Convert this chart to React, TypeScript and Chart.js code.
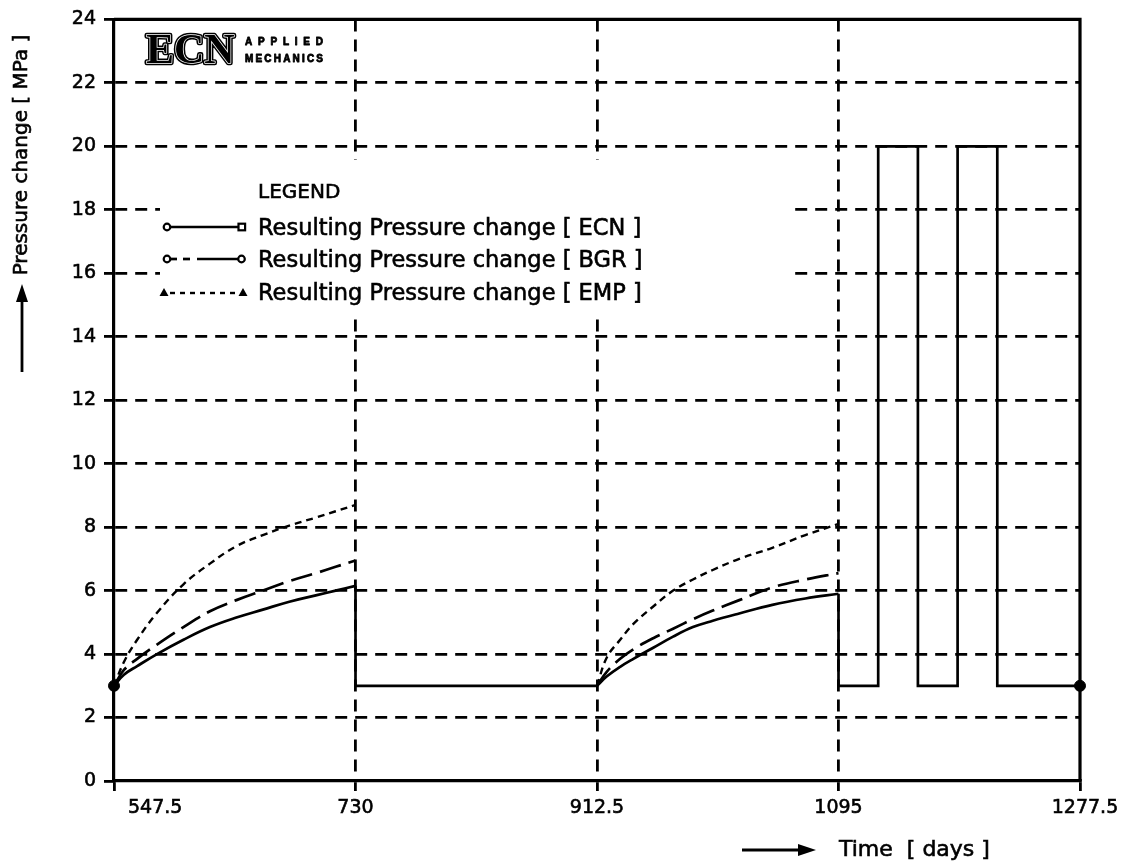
import React, { useEffect, useRef } from "react";
import { Chart, registerables } from "chart.js";

Chart.register(...registerables);

// Loading cycles: time in days, pressure change in MPa
const cycle1Days = [547.5, 555, 565, 580, 600, 620, 640, 660, 680, 700, 715, 730];
const cycle2Days = [912.5, 920, 930, 940, 955, 970, 985, 1000, 1020, 1045, 1070, 1095];

const ecnCycle1 = [3.0, 3.35, 3.62, 4.0, 4.45, 4.85, 5.15, 5.4, 5.65, 5.85, 6.0, 6.15];
const ecnCycle2 = [3.0, 3.3, 3.6, 3.85, 4.2, 4.55, 4.85, 5.05, 5.28, 5.55, 5.75, 5.9];

const bgrCycle1 = [3.0, 3.5, 3.85, 4.3, 4.85, 5.35, 5.7, 6.0, 6.3, 6.55, 6.75, 6.95];
const bgrCycle2 = [3.0, 3.45, 3.85, 4.15, 4.5, 4.8, 5.1, 5.37, 5.7, 6.1, 6.35, 6.55];

const empCycle1 = [3.0, 3.75, 4.45, 5.3, 6.2, 6.85, 7.4, 7.75, 8.05, 8.3, 8.5, 8.7];
const empCycle2 = [3.0, 3.9, 4.45, 4.95, 5.5, 6.0, 6.35, 6.65, 7.0, 7.35, 7.75, 8.1];

// Unloading and cyclic pressure steps of the ECN result (null = no line)
const stepDays = [730, 730, 912.5, 1000, 1095, 1095, 1125, 1125, 1155, 1155, 1185, 1185, 1215, 1215, 1277.5];
const stepValues = [6.15, 3.0, 3.0, null, 5.9, 3.0, 3.0, 20, 20, 3.0, 3.0, 20, 20, 3.0, 3.0];

const endpointDays = [547.5, 1277.5];
const endpointValues = [3.0, 3.0];

const xTickValues = [547.5, 730, 912.5, 1095, 1277.5];
const xTickLabels = ["547.5", "730", "912.5", "1095", "1277.5"];
const yMin = 0;
const yMax = 24;
const yStep = 2;

const legendTitle = "LEGEND";
const legendLabels = [
  "Resulting Pressure change [ ECN ]",
  "Resulting Pressure change [ BGR ]",
  "Resulting Pressure change [ EMP ]",
];
const yTitle = "Pressure change [ MPa ]";
const xTitle = "Time  [ days ]";

const FONT = '"DejaVu Sans", "Liberation Sans", sans-serif';
const INK = "#000";
const NONE = "rgba(0,0,0,0)";
const BGR_DASH = [22, 8];
const EMP_DASH = [7, 5];

const pts = (xs: number[], ys: (number | null)[]) => xs.map((x, i) => ({ x, y: ys[i] }));

// grid lines only inside the frame; the frame itself is drawn solid
const innerGridColor = (ctx: any) => {
  const n = ctx.scale?.ticks?.length ?? 0;
  return ctx.index === 0 || ctx.index === n - 1 ? NONE : INK;
};

// text with a slight stroke so it reads as heavy as the pen-plotted lettering
function inkText(ctx: CanvasRenderingContext2D, text: string, x: number, y: number) {
  ctx.fillText(text, x, y);
  ctx.save();
  ctx.lineWidth = 0.6;
  ctx.strokeStyle = INK;
  ctx.setLineDash([]);
  ctx.strokeText(text, x, y);
  ctx.restore();
}

function drawArrow(ctx: CanvasRenderingContext2D, x1: number, y1: number, x2: number, y2: number) {
  const ang = Math.atan2(y2 - y1, x2 - x1);
  const headLen = 18;
  const headHalf = 6;
  const bx = x2 - headLen * Math.cos(ang);
  const by = y2 - headLen * Math.sin(ang);
  ctx.save();
  ctx.strokeStyle = INK;
  ctx.fillStyle = INK;
  ctx.lineWidth = 2.8;
  ctx.setLineDash([]);
  ctx.beginPath();
  ctx.moveTo(x1, y1);
  ctx.lineTo(bx, by);
  ctx.stroke();
  ctx.beginPath();
  ctx.moveTo(x2, y2);
  ctx.lineTo(bx + headHalf * Math.sin(ang), by - headHalf * Math.cos(ang));
  ctx.lineTo(bx - headHalf * Math.sin(ang), by + headHalf * Math.cos(ang));
  ctx.closePath();
  ctx.fill();
  ctx.restore();
}

function spacedText(ctx: CanvasRenderingContext2D, text: string, x: number, y: number, width: number) {
  const chars = text.split("");
  const total = chars.reduce((s, c) => s + ctx.measureText(c).width, 0);
  const gap = chars.length > 1 ? (width - total) / (chars.length - 1) : 0;
  let cx = x;
  chars.forEach((c) => {
    ctx.fillText(c, cx, y);
    ctx.strokeText(c, cx, y);
    cx += ctx.measureText(c).width + gap;
  });
}

// Blank panel behind the legend (hides the grid there)
const legendPanel = {
  id: "legendPanel",
  beforeDatasetsDraw(chart: any) {
    const { ctx } = chart;
    ctx.save();
    ctx.fillStyle = "#fff";
    ctx.fillRect(160, 160, 628, 155);
    ctx.restore();
  },
};

const decorations = {
  id: "decorations",
  afterDraw(chart: any) {
    const { ctx, chartArea } = chart;
    const xs = chart.scales.x;
    const { left, right, top, bottom } = chartArea;

    ctx.save();
    ctx.setLineDash([]);
    ctx.strokeStyle = INK;
    ctx.fillStyle = INK;

    // top and right frame
    ctx.lineWidth = 3.2;
    ctx.beginPath();
    ctx.moveTo(left, top);
    ctx.lineTo(right, top);
    ctx.lineTo(right, bottom);
    ctx.stroke();

    // x tick labels
    ctx.font = `19px ${FONT}`;
    ctx.textBaseline = "middle";
    xTickValues.forEach((v, i) => {
      const px = xs.getPixelForValue(v);
      if (i === 0) {
        ctx.textAlign = "left";
        inkText(ctx, xTickLabels[i], px + 14, bottom + 27);
      } else if (i === xTickValues.length - 1) {
        ctx.textAlign = "center";
        inkText(ctx, xTickLabels[i], px + 5, bottom + 27);
      } else {
        ctx.textAlign = "center";
        inkText(ctx, xTickLabels[i], px, bottom + 27);
      }
    });

    // x axis title with arrow
    drawArrow(ctx, 742, 850, 816, 850);
    ctx.font = `22px ${FONT}`;
    ctx.textAlign = "left";
    ctx.textBaseline = "middle";
    inkText(ctx, xTitle, 839, 850);

    // y axis title with arrow
    ctx.save();
    ctx.translate(22, 155);
    ctx.rotate(-Math.PI / 2);
    ctx.textAlign = "center";
    ctx.textBaseline = "middle";
    ctx.font = `20px ${FONT}`;
    inkText(ctx, yTitle, 0, 0);
    ctx.restore();
    drawArrow(ctx, 22, 372, 22, 284);

    // ECN logo
    ctx.save();
    ctx.font = `bold 42px "Liberation Serif", serif`;
    ctx.textAlign = "left";
    ctx.textBaseline = "alphabetic";
    ctx.lineJoin = "round";
    ctx.lineWidth = 4.5;
    ctx.strokeStyle = INK;
    ctx.strokeText("ECN", 146, 63);
    ctx.lineWidth = 1.4;
    ctx.strokeStyle = "#fff";
    ctx.strokeText("ECN", 146, 63);
    ctx.fillStyle = INK;
    ctx.fillText("ECN", 146, 63);
    ctx.font = `bold 10px "Liberation Sans", sans-serif`;
    ctx.textBaseline = "middle";
    ctx.strokeStyle = INK;
    ctx.lineWidth = 0.8;
    spacedText(ctx, "APPLIED", 245, 42, 78);
    spacedText(ctx, "MECHANICS", 245, 59, 78);
    ctx.restore();

    // legend
    ctx.textAlign = "left";
    ctx.textBaseline = "alphabetic";
    ctx.font = `20px ${FONT}`;
    inkText(ctx, legendTitle, 258, 198);
    ctx.font = `22.5px ${FONT}`;
    const rowY = [227, 259, 292];
    legendLabels.forEach((label, i) => {
      inkText(ctx, label, 258, rowY[i] + 8);
    });

    ctx.lineWidth = 2.7;
    // ECN sample: open circle - solid - open square
    let y = rowY[0];
    ctx.beginPath();
    ctx.moveTo(171, y);
    ctx.lineTo(238, y);
    ctx.stroke();
    ctx.lineWidth = 2.2;
    ctx.beginPath();
    ctx.arc(167, y, 3.3, 0, Math.PI * 2);
    ctx.stroke();
    ctx.strokeRect(238.5, y - 3.3, 6.6, 6.6);

    // BGR sample: open circle - dash dash long - open circle
    y = rowY[1];
    ctx.lineWidth = 2.7;
    [[171, 177], [183, 190], [197, 238]].forEach(([a, b]) => {
      ctx.beginPath();
      ctx.moveTo(a, y);
      ctx.lineTo(b, y);
      ctx.stroke();
    });
    ctx.lineWidth = 2.2;
    ctx.beginPath();
    ctx.arc(167, y, 3.3, 0, Math.PI * 2);
    ctx.stroke();
    ctx.beginPath();
    ctx.arc(241.5, y, 3.3, 0, Math.PI * 2);
    ctx.stroke();

    // EMP sample: triangle - dotted - triangle
    y = rowY[2];
    ctx.lineWidth = 2.4;
    ctx.setLineDash([5, 5]);
    ctx.beginPath();
    ctx.moveTo(170, y + 1);
    ctx.lineTo(238, y + 1);
    ctx.stroke();
    ctx.setLineDash([]);
    [164, 243].forEach((tx) => {
      ctx.beginPath();
      ctx.moveTo(tx, y - 4);
      ctx.lineTo(tx + 4.5, y + 4);
      ctx.lineTo(tx - 4.5, y + 4);
      ctx.closePath();
      ctx.fill();
    });

    ctx.restore();
  },
};

export default function App() {
  const canvasRef = useRef<HTMLCanvasElement | null>(null);

  useEffect(() => {
    const canvas = canvasRef.current;
    if (!canvas) return;

    const lineBase = {
      borderColor: INK,
      backgroundColor: INK,
      borderWidth: 2.7,
      pointRadius: 0,
      fill: false,
    };
    const curve = { ...lineBase, tension: 0.4 };

    const gridOpts = {
      color: innerGridColor,
      lineWidth: 2.8,
      drawTicks: true,
      tickLength: 10,
      tickWidth: 2.8,
      tickColor: INK,
      tickBorderDash: [],
    } as any;

    const chart = new Chart(canvas, {
      type: "line",
      data: {
        datasets: [
          { ...curve, label: "ECN", data: pts(cycle1Days, ecnCycle1) },
          { ...curve, label: "ECN", data: pts(cycle2Days, ecnCycle2) },
          { ...lineBase, label: "ECN", data: pts(stepDays, stepValues), tension: 0, spanGaps: false },
          { ...curve, label: "BGR", data: pts(cycle1Days, bgrCycle1), borderDash: BGR_DASH },
          { ...curve, label: "BGR", data: pts(cycle2Days, bgrCycle2), borderDash: BGR_DASH },
          { ...curve, label: "EMP", data: pts(cycle1Days, empCycle1), borderDash: EMP_DASH, borderWidth: 2.4 },
          { ...curve, label: "EMP", data: pts(cycle2Days, empCycle2), borderDash: EMP_DASH, borderWidth: 2.4 },
          {
            label: "endpoints",
            data: pts(endpointDays, endpointValues),
            showLine: false,
            pointRadius: 5.5,
            pointStyle: "circle",
            pointBackgroundColor: INK,
            pointBorderColor: INK,
            clip: false,
          } as any,
        ],
      },
      options: {
        responsive: false,
        maintainAspectRatio: false,
        animation: false,
        layout: { padding: { left: 0, right: 49, top: 15, bottom: 0 } },
        plugins: { legend: { display: false }, tooltip: { enabled: false } },
        scales: {
          x: {
            type: "linear",
            min: xTickValues[0],
            max: xTickValues[xTickValues.length - 1],
            afterBuildTicks: (scale: any) => {
              scale.ticks = xTickValues.map((v) => ({ value: v }));
            },
            afterFit: (scale: any) => {
              scale.height = 87;
            },
            ticks: { display: false },
            grid: gridOpts,
            border: { display: true, color: INK, width: 3.2, dash: [12, 8] } as any,
          },
          y: {
            type: "linear",
            min: yMin,
            max: yMax,
            afterFit: (scale: any) => {
              scale.width = 114;
            },
            ticks: {
              stepSize: yStep,
              color: INK,
              padding: 8,
              font: { family: FONT, size: 19 },
              textStrokeColor: INK,
              textStrokeWidth: 0.6,
            },
            grid: gridOpts,
            border: { display: true, color: INK, width: 3.2, dash: [12, 8] } as any,
          },
        },
      },
      plugins: [legendPanel, decorations],
    });

    return () => chart.destroy();
  }, []);

  return (
    <div style={{ position: "fixed", left: 0, top: 0, width: 1129, height: 868, background: "#fff" }}>
      <canvas ref={canvasRef} width={1129} height={868} style={{ display: "block" }} />
    </div>
  );
}
